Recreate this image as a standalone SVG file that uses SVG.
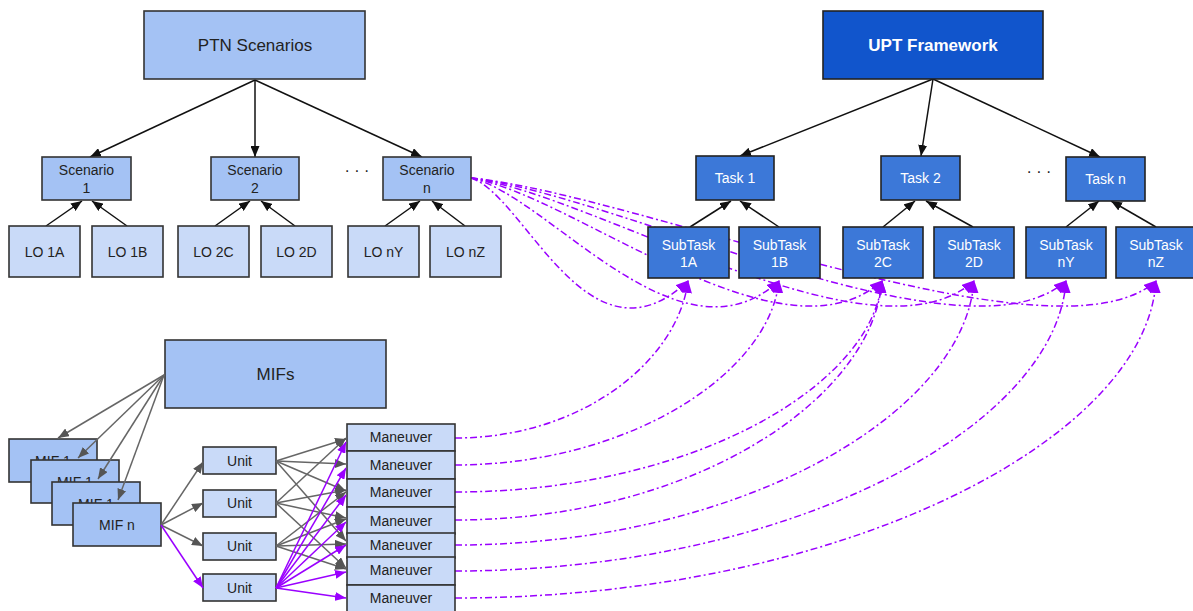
<svg xmlns="http://www.w3.org/2000/svg" width="1193" height="611" viewBox="0 0 1193 611">
<style>
text{font-family:"Liberation Sans",Arial,sans-serif;text-anchor:middle;fill:#222}
.n14{font-size:14px}
.n17{font-size:17px}
.w{fill:#fff}
.b{font-weight:bold}
.l1{fill:#a4c2f4;stroke:#333;stroke-width:1.6}
.l2{fill:#c9daf8;stroke:#333;stroke-width:1.6}
.d1{fill:#1155cc;stroke:#222;stroke-width:1.6}
.d2{fill:#3c78d8;stroke:#222;stroke-width:1.6}
.k{stroke:#111;stroke-width:1.5;fill:none;marker-end:url(#ak)}
.g{stroke:#666;stroke-width:1.5;fill:none;marker-end:url(#ag)}
.p{stroke:#9a00ff;stroke-width:1.5;fill:none;marker-end:url(#ap)}
.pd{stroke:#9a00ff;stroke-width:1.5;fill:none;stroke-dasharray:7 3 2 3;marker-end:url(#apd)}
</style>
<defs>
<marker id="ak" markerUnits="userSpaceOnUse" markerWidth="11" markerHeight="9" refX="11" refY="4.5" orient="auto"><path d="M0,0 L11,4.5 L0,9 z" fill="#111"/></marker>
<marker id="ag" markerUnits="userSpaceOnUse" markerWidth="11" markerHeight="9" refX="11" refY="4.5" orient="auto"><path d="M0,0 L11,4.5 L0,9 z" fill="#555"/></marker>
<marker id="ap" markerUnits="userSpaceOnUse" markerWidth="11" markerHeight="9" refX="11" refY="4.5" orient="auto"><path d="M0,0 L11,4.5 L0,9 z" fill="#9a00ff"/></marker>
<marker id="apd" markerUnits="userSpaceOnUse" markerWidth="13" markerHeight="11" refX="12" refY="5.5" orient="auto"><path d="M0,0 L13,5.5 L0,11 z" fill="#9a00ff"/></marker>
</defs>
<g id="connectors-back">
<path class="pd" d="M471,178 C525,195 588,375 688,281"/>
<path class="pd" d="M471,178 C548,195 679,372 779,281"/>
<path class="pd" d="M471,178 C574,195 782,370 882,281"/>
<path class="pd" d="M471,178 C597,195 874,370 974,281"/>
<path class="pd" d="M471,178 C620,195 966,370 1066,281"/>
<path class="pd" d="M471,178 C642,195 1056,370 1156,281"/>
<path class="pd" d="M455,438 C583,438 678,360 688,281"/>
<path class="pd" d="M455,465 C628,465 769,374 779,281"/>
<path class="pd" d="M455,492 C690,492 872,387 882,281"/>
<path class="pd" d="M455,520 C690,520 872,401 882,281"/>
<path class="pd" d="M455,545 C740,545 964,414 974,281"/>
<path class="pd" d="M455,571 C791,571 1056,427 1066,281"/>
<path class="pd" d="M455,598 C841,598 1146,440 1156,281"/>
<line class="k" x1="255" y1="80" x2="90" y2="157"/>
<line class="k" x1="255" y1="80" x2="255" y2="157"/>
<line class="k" x1="255" y1="80" x2="422" y2="157"/>
<line class="k" x1="46" y1="226" x2="82" y2="201"/>
<line class="k" x1="127" y1="226" x2="92" y2="201"/>
<line class="k" x1="215" y1="226" x2="250" y2="201"/>
<line class="k" x1="295" y1="226" x2="261" y2="201"/>
<line class="k" x1="385" y1="226" x2="420" y2="201"/>
<line class="k" x1="465" y1="226" x2="432" y2="201"/>
<line class="k" x1="933" y1="79" x2="740" y2="156"/>
<line class="k" x1="933" y1="79" x2="921" y2="156"/>
<line class="k" x1="933" y1="79" x2="1100" y2="157"/>
<line class="k" x1="690" y1="227" x2="731" y2="201"/>
<line class="k" x1="779" y1="227" x2="740" y2="201"/>
<line class="k" x1="883" y1="227" x2="915" y2="201"/>
<line class="k" x1="973" y1="227" x2="926" y2="201"/>
<line class="k" x1="1066" y1="227" x2="1099" y2="201"/>
<line class="k" x1="1156" y1="227" x2="1111" y2="201"/>
</g>
<g id="ptn-scenarios"><rect class="l1" x="144" y="11" width="221" height="68"/><text class="n17" x="255" y="51">PTN Scenarios</text></g>
<g id="scenario-1"><rect class="l1" x="42" y="157" width="89" height="43"/><text class="n14" x="86.5" y="175">Scenario</text><text class="n14" x="86.5" y="193">1</text></g>
<g id="scenario-2"><rect class="l1" x="211" y="157" width="88" height="43"/><text class="n14" x="255" y="175">Scenario</text><text class="n14" x="255" y="193">2</text></g>
<g id="dots-left"><text x="357" y="176" style="font-size:16px">· · ·</text></g>
<g id="scenario-n"><rect class="l1" x="383" y="157" width="88" height="43"/><text class="n14" x="427" y="175">Scenario</text><text class="n14" x="427" y="193">n</text></g>
<g id="lo-1a"><rect class="l2" x="9" y="226" width="71" height="51"/><text class="n14" x="44.5" y="257">LO 1A</text></g>
<g id="lo-1b"><rect class="l2" x="92" y="226" width="71" height="51"/><text class="n14" x="127.5" y="257">LO 1B</text></g>
<g id="lo-2c"><rect class="l2" x="178" y="226" width="71" height="51"/><text class="n14" x="213.5" y="257">LO 2C</text></g>
<g id="lo-2d"><rect class="l2" x="261" y="226" width="71" height="51"/><text class="n14" x="296.5" y="257">LO 2D</text></g>
<g id="lo-ny"><rect class="l2" x="348" y="226" width="71" height="51"/><text class="n14" x="383.5" y="257">LO nY</text></g>
<g id="lo-nz"><rect class="l2" x="430" y="226" width="71" height="51"/><text class="n14" x="465.5" y="257">LO nZ</text></g>
<g id="upt-framework"><rect class="d1" x="823" y="11" width="220" height="68"/><text class="n17 w b" x="933" y="51">UPT Framework</text></g>
<g id="task-1"><rect class="d2" x="696" y="156" width="78" height="44"/><text class="n14 w" x="735" y="183">Task 1</text></g>
<g id="task-2"><rect class="d2" x="881" y="156" width="79" height="44"/><text class="n14 w" x="920.5" y="183">Task 2</text></g>
<g id="dots-right"><text x="1039" y="177" style="font-size:16px">· · ·</text></g>
<g id="task-n"><rect class="d2" x="1066" y="157" width="79" height="44"/><text class="n14 w" x="1105.5" y="184">Task n</text></g>
<g id="subtask-1a"><rect class="d2" x="648" y="227" width="81" height="51"/><text class="n14 w" x="688.5" y="250">SubTask</text><text class="n14 w" x="688.5" y="267">1A</text></g>
<g id="subtask-1b"><rect class="d2" x="739" y="227" width="81" height="51"/><text class="n14 w" x="779.5" y="250">SubTask</text><text class="n14 w" x="779.5" y="267">1B</text></g>
<g id="subtask-2c"><rect class="d2" x="843" y="227" width="80" height="51"/><text class="n14 w" x="883" y="250">SubTask</text><text class="n14 w" x="883" y="267">2C</text></g>
<g id="subtask-2d"><rect class="d2" x="934" y="227" width="80" height="51"/><text class="n14 w" x="974" y="250">SubTask</text><text class="n14 w" x="974" y="267">2D</text></g>
<g id="subtask-ny"><rect class="d2" x="1026" y="227" width="80" height="51"/><text class="n14 w" x="1066" y="250">SubTask</text><text class="n14 w" x="1066" y="267">nY</text></g>
<g id="subtask-nz"><rect class="d2" x="1116" y="227" width="81" height="51"/><text class="n14 w" x="1156" y="250">SubTask</text><text class="n14 w" x="1156" y="267">nZ</text></g>
<g id="mifs"><rect class="l1" x="165" y="340" width="221" height="68"/><text class="n17" x="275.5" y="380">MIFs</text></g>
<g id="mif-1a"><rect class="l1" x="9" y="439" width="88" height="43"/><text class="n14" x="53" y="466">MIF 1</text></g>
<g id="mif-1b"><rect class="l1" x="31" y="460" width="88" height="43"/><text class="n14" x="75" y="487">MIF 1</text></g>
<g id="mif-1c"><rect class="l1" x="52" y="482" width="88" height="43"/><text class="n14" x="96" y="509">MIF 1</text></g>
<g id="mif-n"><rect class="l1" x="73" y="503" width="88" height="43"/><text class="n14" x="117" y="530">MIF n</text></g>
<g id="unit-1"><rect class="l2" x="203" y="447" width="73" height="27"/><text class="n14" x="239.5" y="466">Unit</text></g>
<g id="unit-2"><rect class="l2" x="203" y="490" width="73" height="27"/><text class="n14" x="239.5" y="508">Unit</text></g>
<g id="unit-3"><rect class="l2" x="203" y="533" width="73" height="27"/><text class="n14" x="239.5" y="551">Unit</text></g>
<g id="unit-4"><rect class="l2" x="203" y="574" width="73" height="27"/><text class="n14" x="239.5" y="593">Unit</text></g>
<g id="maneuver-1"><rect class="l2" x="347" y="424" width="108" height="27"/><text class="n14" x="401" y="442">Maneuver</text></g>
<g id="maneuver-2"><rect class="l2" x="347" y="451" width="108" height="28"/><text class="n14" x="401" y="470">Maneuver</text></g>
<g id="maneuver-3"><rect class="l2" x="347" y="479" width="108" height="28"/><text class="n14" x="401" y="497">Maneuver</text></g>
<g id="maneuver-4"><rect class="l2" x="347" y="507" width="108" height="27"/><text class="n14" x="401" y="526">Maneuver</text></g>
<g id="maneuver-5"><rect class="l2" x="347" y="533" width="108" height="25"/><text class="n14" x="401" y="550">Maneuver</text></g>
<g id="maneuver-6"><rect class="l2" x="347" y="557" width="108" height="28"/><text class="n14" x="401" y="575">Maneuver</text></g>
<g id="maneuver-7"><rect class="l2" x="347" y="585" width="108" height="28"/><text class="n14" x="401" y="603">Maneuver</text></g>
<g id="connectors-front">
<line class="g" x1="164" y1="375" x2="58" y2="438"/>
<line class="g" x1="164" y1="375" x2="78" y2="458"/>
<line class="g" x1="164" y1="375" x2="98" y2="479"/>
<line class="g" x1="164" y1="375" x2="118" y2="500"/>
<line class="g" x1="161" y1="525" x2="203" y2="462"/>
<line class="g" x1="161" y1="525" x2="203" y2="503"/>
<line class="g" x1="161" y1="525" x2="203" y2="546"/>
<line class="p" x1="161" y1="525" x2="203" y2="588"/>
<line class="g" x1="276" y1="461" x2="346" y2="439"/>
<line class="g" x1="276" y1="461" x2="346" y2="464"/>
<line class="g" x1="276" y1="461" x2="346" y2="491"/>
<line class="g" x1="276" y1="461" x2="346" y2="541"/>
<line class="g" x1="276" y1="503" x2="346" y2="438"/>
<line class="g" x1="276" y1="503" x2="346" y2="490"/>
<line class="g" x1="276" y1="503" x2="346" y2="518"/>
<line class="g" x1="276" y1="503" x2="346" y2="568"/>
<line class="g" x1="276" y1="546" x2="346" y2="492"/>
<line class="g" x1="276" y1="546" x2="346" y2="519"/>
<line class="g" x1="276" y1="546" x2="346" y2="544"/>
<line class="g" x1="276" y1="546" x2="346" y2="569"/>
<line class="p" x1="276" y1="588" x2="346" y2="442"/>
<line class="p" x1="276" y1="588" x2="346" y2="468"/>
<line class="p" x1="276" y1="588" x2="346" y2="495"/>
<line class="p" x1="276" y1="588" x2="346" y2="522"/>
<line class="p" x1="276" y1="588" x2="346" y2="545"/>
<line class="p" x1="276" y1="588" x2="346" y2="572"/>
<line class="p" x1="276" y1="588" x2="346" y2="598"/>
</g>
</svg>
